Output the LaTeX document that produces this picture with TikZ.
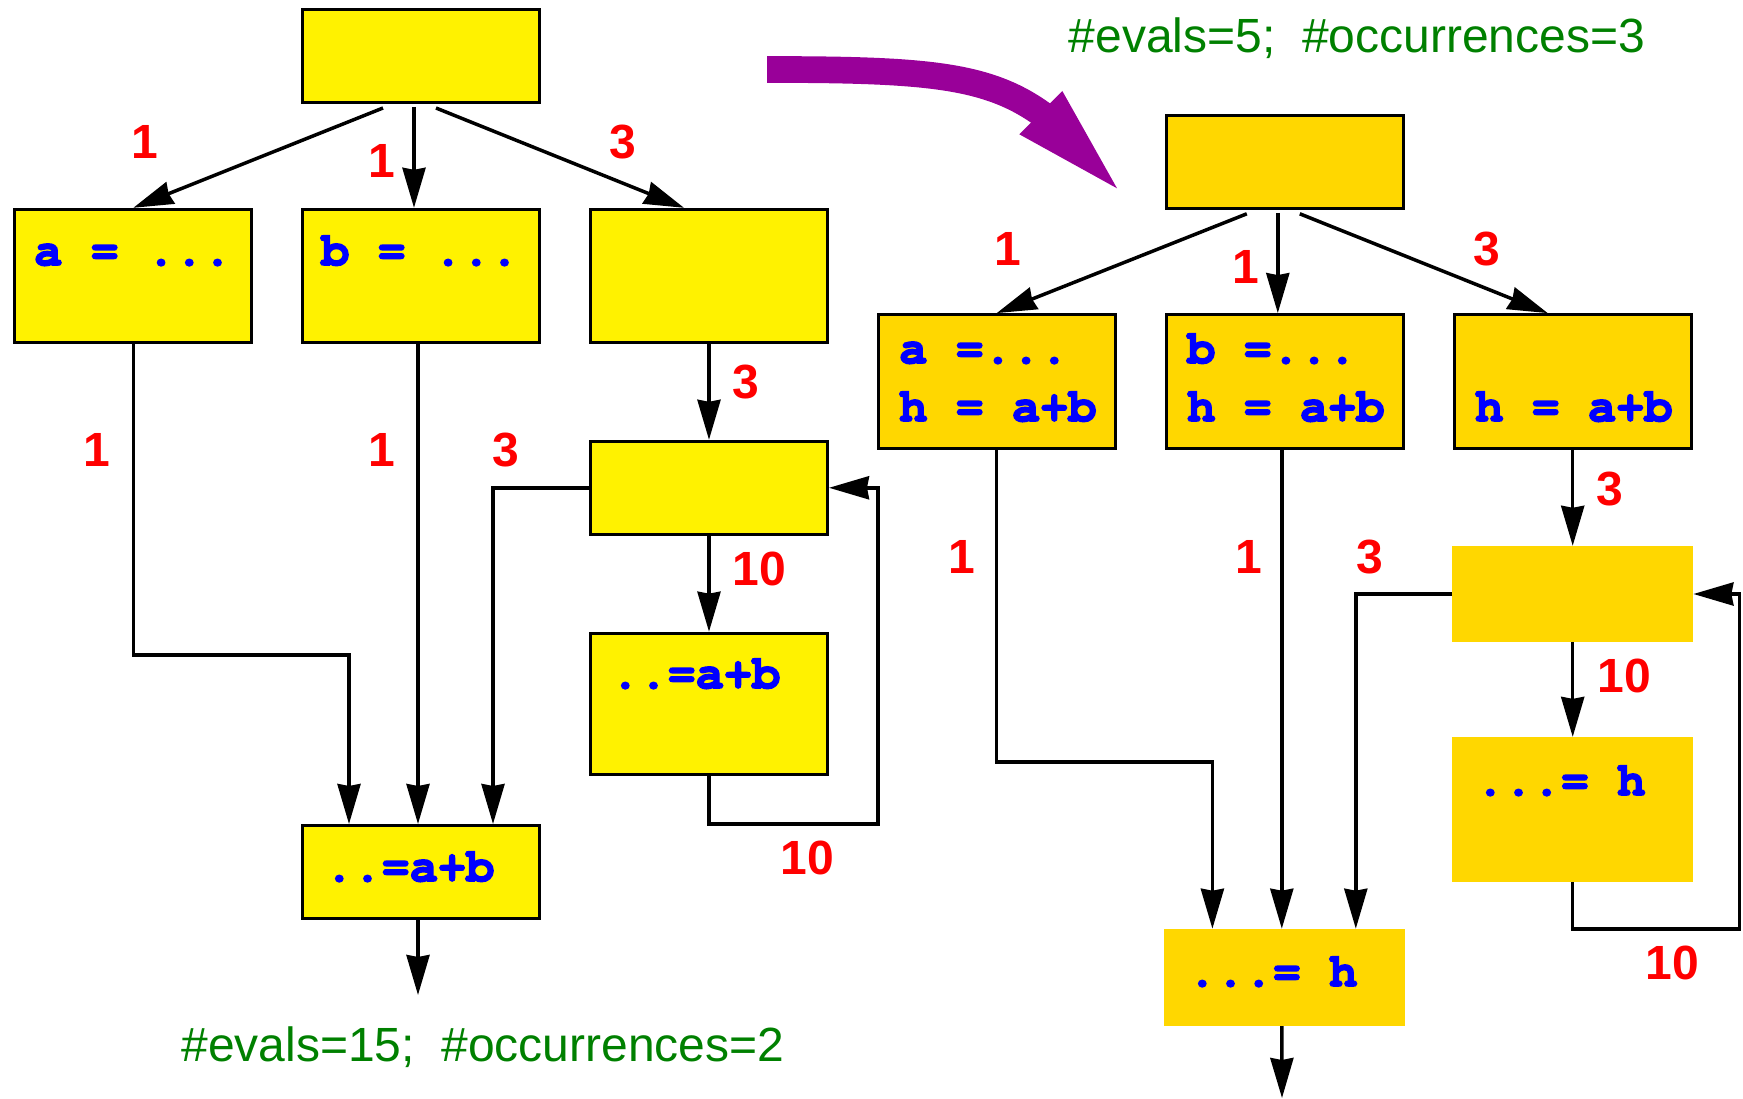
\documentclass[tikz,border=0pt]{standalone}
\usepackage[T1,TU]{fontenc}
\usepackage{fontspec}
\setmainfont{Liberation Sans}
\usetikzlibrary{arrows.meta}

\definecolor{boxgold}{RGB}{255,215,0}
\definecolor{morph}{RGB}{153,0,153}
\definecolor{countgreen}{RGB}{0,128,0}
\newcommand\codefont{\fontencoding{T1}\fontfamily{pcr}\fontseries{b}\fontshape{n}\fontsize{47}{50}\selectfont}
\newcommand\freqfont{\bfseries\fontsize{48}{50}\selectfont}
\newcommand\countfont{\fontsize{48}{50}\selectfont}
% Courier bold is drawn a bit heavier: fill and stroke the glyphs
\newcommand\heavy[1]{\special{pdf:literal direct 2 Tr 1.6 w}#1\special{pdf:literal direct 0 Tr}}

\tikzset{
  block/.style={rectangle, draw=black, line width=3pt, fill=yellow, minimum width=237pt, inner sep=0pt},
  gblock/.style={block, fill=boxgold},
  gplain/.style={rectangle, fill=boxgold, minimum width=241pt, inner sep=0pt},
  flow/.style={line width=3.5pt, -{Stealth[length=40pt,width=23pt,inset=2pt]}},
  freq/.style={text=red, font=\freqfont, inner sep=0pt},
  code/.style={text=blue, font=\codefont, anchor=base west, inner sep=0pt},
  count/.style={text=countgreen, font=\countfont, anchor=base, inner sep=0pt}
}

\begin{document}
\begin{tikzpicture}[x=1pt,y=-1pt]
\useasboundingbox (0,0) rectangle (1743,1099);

% left flow graph: blocks
\node[block, minimum height=93pt] (top) at (421,56) {};
\node[block, minimum height=133pt] (ba) at (133.3,275.8) {};
\node[block, minimum height=133pt] (bb) at (421,275.8) {};
\node[block, minimum height=133pt] (bc) at (709,275.8) {};
\node[block, minimum height=93pt] (loop) at (709,487.8) {};
\node[block, minimum height=141pt] (body) at (709,703.7) {};
\node[block, minimum height=93pt] (join) at (421,872) {};
% statements
\node[code] (ta) at (34,265) {\heavy{a = ...}};
\node[code] (tb) at (321,265) {\heavy{b = ...}};
\node[code] (tbody) at (611,688) {\heavy{..=a+b}};
\node[code] (tjoin) at (325,881) {\heavy{..=a+b}};
% edges
\draw[flow] ([xshift=-38pt,yshift=-4pt]top.south) -- (ba.north);
\draw[flow] ([xshift=-7pt,yshift=-3pt]top.south) -- ([xshift=-7pt]bb.north);
\draw[flow] ([xshift=15pt,yshift=-4pt]top.south) -- ([xshift=-25pt]bc.north);
\coordinate (ka) at (349,655);
\draw[flow] (ba.south) |- (ka) -- (ka |- join.north);
\draw[flow] ([xshift=-3pt]bb.south) -- ([xshift=-3pt]join.north);
\draw[flow] (loop.west) -| ([xshift=72pt]join.north);
\draw[flow] (bc) -- (loop);
\draw[flow] (loop) -- (body);
\coordinate (kb) at (878,824);
\draw[flow] (body.south) |- (kb) |- (loop.east);
\coordinate (out) at (418,995);
\draw[flow] ([xshift=-3pt]join.south) -- (out);
% execution counts
\node[freq] (f1) at (145,142) {1};
\node[freq] (f2) at (382,161) {1};
\node[freq] (f3) at (623,142) {3};
\node[freq] (f4) at (97,450) {1};
\node[freq] (f5) at (382,450) {1};
\node[freq] (f6) at (506,450) {3};
\node[freq] (f7) at (746,382) {3};
\node[freq] (f8) at (759,569) {10};
\node[freq] (f9) at (807,858) {10};
\node[count] (cl) at (483,1061) {\#evals=15;\ \ \#occurrences=2};

% the transformation
\coordinate (mfrom) at (767,69.5);
\coordinate (mto) at (1046,117);
\draw[line width=26.7pt, draw=morph] (mfrom) .. controls (930,69.5) and (990,75) .. (mto);
\fill[morph] (1117,188.3) -- (1019.3,134.3) -- (1062.3,91) -- cycle;

% right flow graph: blocks
\node[gblock, minimum height=93pt] (rtop) at (1284.8,161.8) {};
\node[gblock, minimum height=134pt] (ra) at (996.7,381.6) {};
\node[gblock, minimum height=134pt] (rb) at (1284.8,381.6) {};
\node[gblock, minimum height=134pt] (rc) at (1572.7,381.6) {};
\node[gplain, minimum height=96pt] (rloop) at (1572.7,594) {};
\node[gplain, minimum height=145pt] (rbody) at (1572.7,809.6) {};
\node[gplain, minimum height=97pt] (rjoin) at (1284.8,977.4) {};
% statements
\node[code] (tra1) at (899,363) {\heavy{a =...}};
\node[code] (tra2) at (899,421) {\heavy{h = a+b}};
\node[code] (trb1) at (1187,363) {\heavy{b =...}};
\node[code] (trb2) at (1187,421) {\heavy{h = a+b}};
\node[code] (trc) at (1475,421) {\heavy{h = a+b}};
\node[code] (trbody) at (1476,795) {\heavy{...= h}};
\node[code] (trjoin) at (1188,986) {\heavy{...= h}};
% edges
\draw[flow] ([xshift=-38pt,yshift=-4pt]rtop.south) -- (ra.north);
\draw[flow] ([xshift=-7pt,yshift=-3pt]rtop.south) -- ([xshift=-7pt]rb.north);
\draw[flow] ([xshift=15pt,yshift=-4pt]rtop.south) -- ([xshift=-25pt]rc.north);
\coordinate (rka) at (1212.4,761.8);
\draw[flow] (ra.south) |- (rka) -- (rka |- rjoin.north);
\draw[flow] ([xshift=-3pt]rb.south) -- ([xshift=-3pt]rjoin.north);
\draw[flow] (rloop.west) -| ([xshift=71pt]rjoin.north);
\draw[flow] (rc) -- (rloop);
\draw[flow] (rloop) -- (rbody);
\coordinate (rkb) at (1739.5,929);
\draw[flow] (rbody.south) |- (rkb) |- (rloop.east);
\coordinate (rout) at (1282,1098);
\draw[flow] ([xshift=-3pt]rjoin.south) -- (rout);
% execution counts
\node[freq] (g1) at (1008,249) {1};
\node[freq] (g2) at (1246,267) {1};
\node[freq] (g3) at (1487,249) {3};
\node[freq] (g4) at (962,557) {1};
\node[freq] (g5) at (1249,557) {1};
\node[freq] (g6) at (1370,557) {3};
\node[freq] (g7) at (1610,489) {3};
\node[freq] (g8) at (1624,676) {10};
\node[freq] (g9) at (1672,963) {10};
\node[count] (cr) at (1357,52.6) {\#evals=5;\ \ \#occurrences=3};
\end{tikzpicture}
\end{document}
